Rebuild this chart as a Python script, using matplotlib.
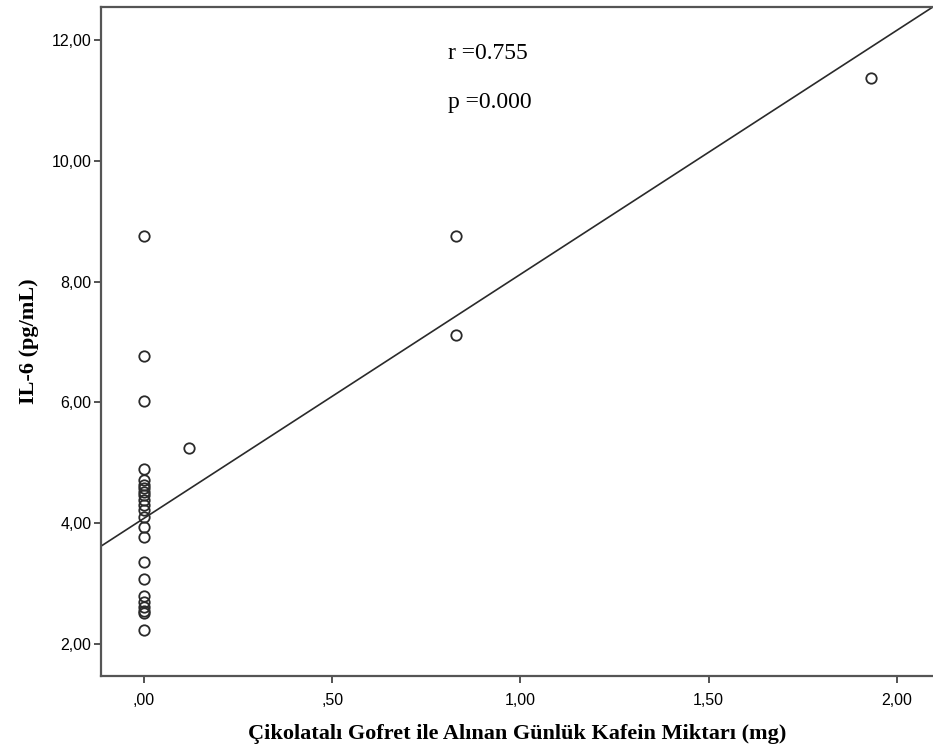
import matplotlib.pyplot as plt

# caffeine from chocolate wafers (mg/day) vs IL-6 (pg/mL)
kafein = [0, 0, 0, 0, 0, 0, 0, 0, 0, 0, 0, 0, 0, 0, 0, 0, 0, 0, 0, 0,
          0, 0, 0, 0.12, 0.83, 0.83, 1.93]
il6 = [2.23, 2.52, 2.55, 2.62, 2.70, 2.80, 3.07, 3.36, 3.77, 3.93, 4.11,
       4.22, 4.30, 4.38, 4.47, 4.52, 4.58, 4.63, 4.72, 4.89, 6.03, 6.77,
       8.76, 5.24, 8.76, 7.12, 11.37]

# linear fit line
fit_intercept = 4.08
fit_slope = 4.04

xticks = [0, 0.5, 1.0, 1.5, 2.0]
xtick_labels = [',00', ',50', '1,00', '1,50', '2,00']
yticks = [2, 4, 6, 8, 10, 12]
ytick_labels = ['2,00', '4,00', '6,00', '8,00', '10,00', '12,00']

fig = plt.figure(figsize=(9.33, 7.52), dpi=100)
ax = fig.add_axes([101 / 933, 1 - 676 / 752, 1 - 101 / 933, (676 - 7) / 752])

xmin, xmax = -0.114, 2.096
ax.set_xlim(xmin, xmax)
ax.set_ylim(1.47, 12.546)

ax.plot([xmin, xmax], [fit_intercept + fit_slope * xmin, fit_intercept + fit_slope * xmax],
        color='#2a2a2a', lw=1.2, zorder=2)
ax.plot(kafein, il6, 'o', ms=7.5, mfc='none', mec='#2a2a2a', mew=1.3, zorder=3)

for s in ['left', 'bottom', 'top']:
    ax.spines[s].set_color('#555555')
    ax.spines[s].set_linewidth(1.6)
ax.spines['right'].set_visible(False)

ax.set_xticks(xticks)
ax.set_xticklabels(xtick_labels, family='Liberation Sans', fontsize=11.5)
ax.set_yticks(yticks)
ax.set_yticklabels(ytick_labels, family='Liberation Sans', fontsize=11.5)
ax.tick_params(direction='out', length=5, width=1.3, color='#444444', pad=2)
ax.tick_params(axis='x', pad=7)

ax.set_xlabel('Çikolatalı Gofret ile Alınan Günlük Kafein Miktarı (mg)',
              family='Liberation Serif', fontweight='bold', fontsize=16, labelpad=12)
ax.set_ylabel('IL-6 (pg/mL)', family='Liberation Serif', fontweight='bold',
              fontsize=16, labelpad=9)

ax.text(0.807, 11.685, 'r =0.755', family='Liberation Serif', fontsize=17)
ax.text(0.807, 10.87, 'p =0.000', family='Liberation Serif', fontsize=17)

fig.savefig('out.png', dpi=100)
